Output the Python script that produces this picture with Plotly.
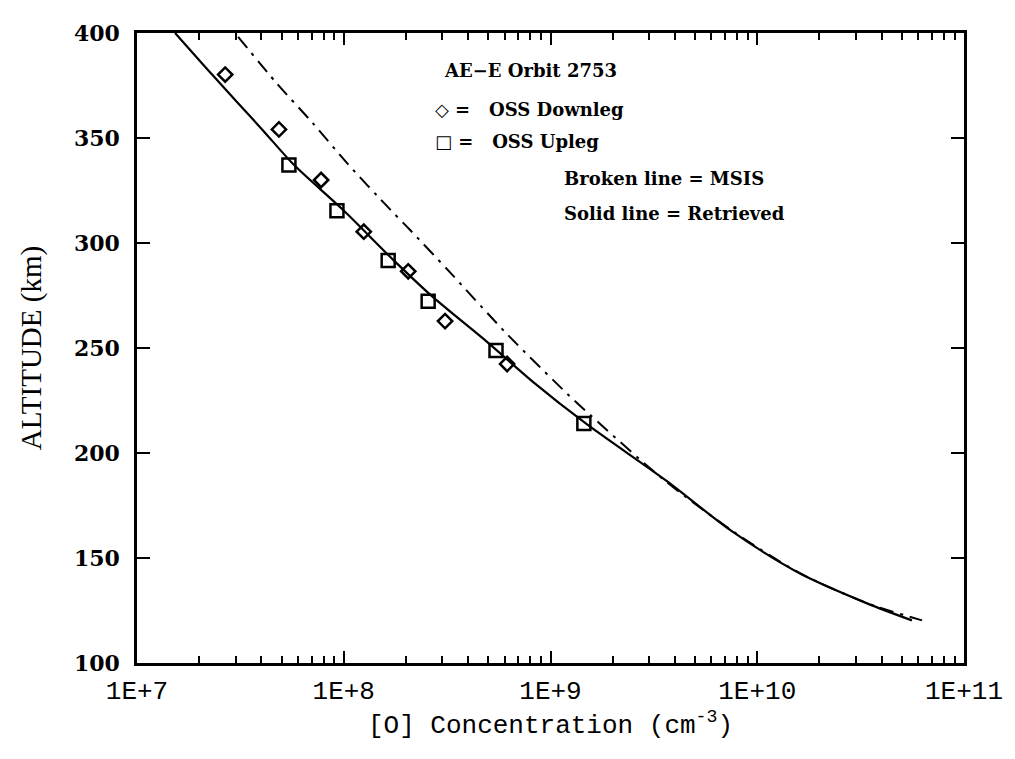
import plotly.graph_objects as go

# Retrieved profile (solid line): [O] concentration (cm^-3) vs altitude (km)
ret_conc = [1.528e7, 2.307e7, 4.027e7, 5.754e7, 9.908e7, 1.730e8, 2.704e8, 4.932e8,
            8.222e8, 1.503e9, 3.656e9, 7.499e9, 1.611e10, 3.396e10, 5.598e10]
ret_alt = [400.0, 380.2, 354.1, 337.1, 315.8, 292.1, 274.2, 252.9,
           233.9, 213.6, 186.6, 162.9, 142.6, 128.4, 120.3]

# MSIS profile (broken line)
msis_conc = [3.083e7, 4.753e7, 7.096e7, 1.038e8, 1.675e8, 2.089e8, 3.266e8, 6.166e8,
             1.202e9, 1.549e9, 3.459e9, 7.586e9, 1.622e10, 3.428e10, 6.266e10]
msis_alt = [398.2, 375.9, 357.0, 338.0, 316.0, 306.3, 286.0, 256.6,
            228.3, 218.3, 188.0, 162.9, 142.6, 128.4, 120.3]

# OSS downleg (diamonds)
down_conc = [2.67e7, 4.86e7, 7.77e7, 1.25e8, 2.05e8, 3.09e8, 6.17e8]
down_alt = [380.2, 354.1, 330.0, 305.4, 286.5, 262.8, 242.4]

# OSS upleg (squares)
up_conc = [5.43e7, 9.27e7, 1.64e8, 2.56e8, 5.45e8, 1.45e9]
up_alt = [337.1, 315.3, 291.7, 272.3, 248.8, 214.1]

x_tickvals = [1e7, 1e8, 1e9, 1e10, 1e11]
x_ticktext = ["1E+7", "1E+8", "1E+9", "1E+10", "1E+11"]
y_tickvals = [100, 150, 200, 250, 300, 350, 400]

fig = go.Figure()
fig.add_trace(go.Scatter(x=msis_conc, y=msis_alt, mode="lines",
                         line=dict(color="black", width=2, dash="14px,7px,3px,7px",
                                   shape="spline", smoothing=0.8),
                         showlegend=False))
fig.add_trace(go.Scatter(x=ret_conc, y=ret_alt, mode="lines",
                         line=dict(color="black", width=2.2, shape="spline", smoothing=0.8),
                         showlegend=False))
fig.add_trace(go.Scatter(x=down_conc, y=down_alt, mode="markers",
                         marker=dict(symbol="diamond-open", size=11, color="black",
                                     line=dict(width=2.5, color="black")),
                         showlegend=False))
fig.add_trace(go.Scatter(x=up_conc, y=up_alt, mode="markers",
                         marker=dict(symbol="square-open", size=13, color="black",
                                     line=dict(width=2.5, color="black")),
                         showlegend=False))

# plot area in screen pixels (page has an 8px body margin)
PL, PR, PT, PB = 137, 964, 29, 663

ann_font = dict(family="DejaVu Serif", size=18, color="black", weight="bold")
annots = [
    ("AE−E Orbit 2753", 442, 67),
    ("◇ =   OSS Downleg", 433, 106),
    ("□ =   OSS Upleg", 433, 138),
    ("Broken line = MSIS", 562, 175),
    ("Solid line = Retrieved", 562, 211),
]
for text, px, py in annots:
    fig.add_annotation(text=text, xref="paper", yref="paper",
                       x=(px - PL) / (PR - PL), y=(PB - py) / (PB - PT),
                       xanchor="left", yanchor="middle", showarrow=False,
                       font=ann_font)

fig.update_layout(
    width=1015, height=759,
    margin=dict(l=PL - 8, r=1023 - PR, t=PT - 8, b=767 - PB),
    paper_bgcolor="white", plot_bgcolor="white",
    xaxis=dict(type="log", range=[7, 11], tickvals=x_tickvals, ticktext=x_ticktext,
               ticks="inside", ticklen=12, tickwidth=2, tickcolor="black",
               showline=True, linewidth=2.5, linecolor="black", mirror="allticks",
               showgrid=False, zeroline=False, ticklabelstandoff=2,
               minor=dict(ticks="inside", ticklen=7, tickwidth=1.5, tickcolor="black",
                          dtick="D1", showgrid=False),
               tickfont=dict(family="Liberation Mono", size=26, color="black"),
               title=dict(text="[O] Concentration (cm<sup>-3</sup>)", standoff=2,
                          font=dict(family="Liberation Mono", size=26, color="black"))),
    yaxis=dict(range=[100, 400], tickvals=y_tickvals,
               ticks="inside", ticklen=13, tickwidth=2, tickcolor="black",
               showline=True, linewidth=2.5, linecolor="black", mirror="allticks",
               showgrid=False, zeroline=False, ticklabelstandoff=10,
               tickfont=dict(family="DejaVu Serif", size=22, color="black", weight="bold"),
               title=dict(text="ALTITUDE (km)", standoff=24,
                          font=dict(family="Liberation Serif", size=29, color="black"))),
)

fig.write_html("out.html")
